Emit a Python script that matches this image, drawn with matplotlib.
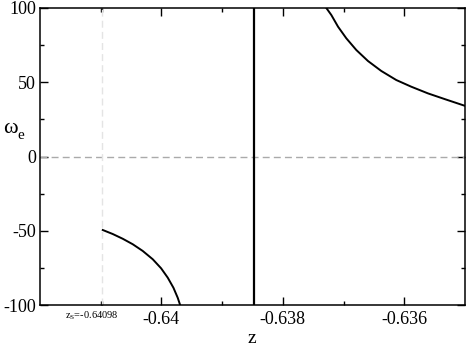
import matplotlib
matplotlib.use("Agg")
import matplotlib.pyplot as plt

plt.rcParams['font.family'] = ['Liberation Serif', 'DejaVu Serif']
plt.rcParams['axes.unicode_minus'] = False

# values
z_s = -0.64098
z_pole = -0.63847

# branch left of the pole
z_low = [-0.640966, -0.640802, -0.640637, -0.640472, -0.640308, -0.640143,
         -0.640005, -0.639896, -0.639802, -0.639732, -0.639692]
w_low = [-49.5, -52.2, -55.4, -59.1, -63.6, -69.2, -75.3, -81.6, -88.4, -95.1, -100.0]

# branch right of the pole
z_high = [-0.637284, -0.637202, -0.637091, -0.636955, -0.636790, -0.636598,
          -0.636379, -0.636132, -0.635885, -0.635610, -0.635337, -0.635007]
w_high = [100.0, 95.3, 87.4, 79.6, 71.7, 64.3, 57.6, 51.5, 47.0, 42.5, 38.7, 34.2]

x_major = [-0.640, -0.638, -0.636]
x_minor = [-0.641, -0.639, -0.637]
y_major = [-100, -50, 0, 50, 100]
y_minor = [-75, -25, 25, 75]

fig = plt.figure(figsize=(4.67, 3.46), dpi=100)
ax = fig.add_axes([40/467, 41/346, 425/467, 297/346])

ax.axhline(0, color='#aaaaaa', lw=1, ls=(0, (5, 3)))
ax.axvline(z_s, color='#e4e4e4', lw=1, ls=(0, (5, 3)))
ax.axvline(z_pole, color='black', lw=1.6)
ax.plot(z_low, w_low, color='black', lw=1.4)
ax.plot(z_high, w_high, color='black', lw=1.4)

ax.set_xlim(-0.642, -0.635)
ax.set_ylim(-100, 100)

ax.set_xticks(x_major)
ax.set_xticklabels(['-0.64', '-0.638', '-0.636'])
ax.set_xticks(x_minor + [z_s], minor=True)
ax.set_yticks(y_major)
ax.set_yticklabels([str(v) for v in y_major])
ax.set_yticks(y_minor, minor=True)

ax.tick_params(which='both', direction='in', top=True, right=True,
               labelsize=13, width=1)
ax.tick_params(which='major', length=6, pad=4)
ax.tick_params(which='minor', length=3)
ax.tick_params(axis='y', pad=3)
for s in ax.spines.values():
    s.set_linewidth(1.1)

# axis labels placed by hand (xmgrace style)
fig.text(252/467, 1 - 343/346, 'z', fontsize=14, ha='center', va='baseline')
fig.text(3/467, 1 - 133/346, 'ω', fontsize=16, va='baseline', ha='left')
fig.text(17/467, 1 - 139/346, 'e', fontsize=11, va='baseline', ha='left')
fig.text(65/467, 1 - 318/346, r'$\mathregular{z_S}$=-0.64098', fontsize=7.5,
         va='baseline', ha='left')

fig.savefig('out.png', dpi=100)
